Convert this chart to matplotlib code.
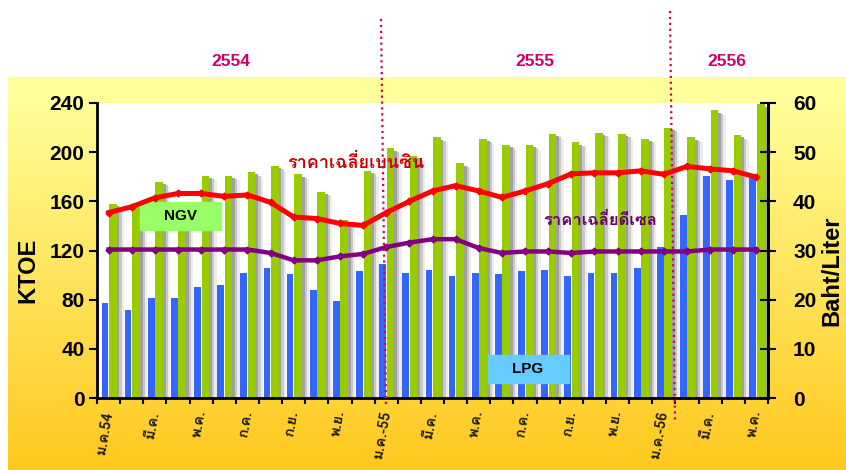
import numpy as np
import matplotlib
matplotlib.use('Agg')
import matplotlib.pyplot as plt
from matplotlib import font_manager
from matplotlib.ft2font import FT2Font
from matplotlib.patches import Rectangle
from matplotlib.lines import Line2D

# ข้อมูลรายเดือน ม.ค.54 - พ.ค.56
lpg = [77, 72, 81, 81, 90, 92, 102, 106, 101, 88, 79, 103, 109, 102, 104, 99, 102, 101,
       103, 104, 99, 102, 102, 106, 123, 149, 181, 177, 179]
ngv = [158, 155, 176, 158, 181, 181, 184, 189, 182, 168, 145, 185, 203, 197, 212, 191, 211, 206,
       206, 215, 208, 216, 215, 211, 220, 212, 234, 214, 239]
benzine = [37.7, 38.9, 40.7, 41.6, 41.6, 41.0, 41.3, 39.8, 36.8, 36.5, 35.5, 35.1, 37.7, 40.0,
           42.1, 43.2, 42.1, 40.8, 42.1, 43.6, 45.6, 45.8, 45.8, 46.2, 45.5, 47.1, 46.6, 46.2, 44.9]
diesel = [30.2, 30.2, 30.2, 30.2, 30.2, 30.2, 30.2, 29.5, 28.0, 28.0, 28.8, 29.3, 30.7, 31.6,
          32.3, 32.3, 30.5, 29.5, 29.8, 29.8, 29.5, 29.8, 29.8, 29.8, 29.8, 29.8, 30.2, 30.2, 30.2]
month_labels = ['ม.ค.54', 'มี.ค.', 'พ.ค.', 'ก.ค.', 'ก.ย.', 'พ.ย.', 'ม.ค.-55', 'มี.ค.', 'พ.ค.',
                'ก.ค.', 'ก.ย.', 'พ.ย.', 'ม.ค.-56', 'มี.ค.', 'พ.ค.']
years = ['2554', '2555', '2556']
left_ticks = [0, 40, 80, 120, 160, 200, 240]
right_ticks = [0, 10, 20, 30, 40, 50, 60]


def thai_family():
    # หาฟอนต์ที่มีตัวอักษรไทย
    for f in font_manager.fontManager.ttflist:
        try:
            if 0x0E01 in FT2Font(f.fname).get_charmap():
                return f.name
        except Exception:
            pass
    return 'DejaVu Sans'


THAI = [thai_family(), 'DejaVu Sans']
plt.rcParams['font.family'] = ['Liberation Sans', 'DejaVu Sans']

W, H = 846, 470
fig = plt.figure(figsize=(W / 100, H / 100), dpi=100)
fig.patch.set_facecolor('white')


def fx(px):
    return px / W


def fy(py):
    return 1 - py / H


# พื้นหลังไล่สีเหลือง
bg = fig.add_axes([0, 0, 1, 1], zorder=-10)
c_top = np.array([255, 255, 153]) / 255
c_bot = np.array([255, 200, 30]) / 255
t = np.clip((np.linspace(0, 1, 200) - 0.05) / 0.95, 0, 1)[:, None]
grad = c_top * (1 - t) + c_bot * t
bg.imshow(grad[:, None, :].repeat(2, axis=1), extent=[8, W, H, 77], aspect='auto')
bg.set_xlim(0, W)
bg.set_ylim(H, 0)
bg.axis('off')

ax = fig.add_axes([fx(97), fy(398), fx(768) - fx(97), fy(103) - fy(398)])
ax.set_facecolor('white')
x = np.arange(len(lpg))

# เงาของแท่ง
ax.bar(x + 0.35, np.array(ngv) - 2, width=0.12, align='edge', color='#a0a0a0', zorder=1)
ax.bar(x + 0.47, np.array(ngv) - 3, width=0.1, align='edge', color='#c8c8c8', zorder=1)
ax.bar(x + 0.57, np.array(ngv) - 4, width=0.1, align='edge', color='#ececec', zorder=1)
ax.bar(x - 0.3, lpg, width=0.29, align='edge', color='#3366ff', zorder=2)
ax.bar(x + 0.02, ngv, width=0.33, align='edge', color='#99cc00', zorder=2)

ax.set_xlim(-0.5, len(lpg) - 0.5)
ax.set_ylim(0, 240)
ax.set_yticks(left_ticks)
ax.set_yticklabels(left_ticks, fontsize=15, fontweight='bold')
ax.set_xticks(x[::2])
ax.set_xticklabels(month_labels, rotation=80, ha='right', va='center', rotation_mode='anchor',
                   fontsize=10.5, fontweight='bold', family=THAI, color='#1a1a1a')
ax.set_xticks(np.arange(-0.5, len(lpg)), minor=True)
ax.tick_params(axis='x', which='major', length=0, pad=9)
ax.tick_params(axis='x', which='minor', length=4, width=1.5)
ax.tick_params(axis='y', length=6, width=1.5, pad=3)
for s in ['left', 'bottom', 'right']:
    ax.spines[s].set_linewidth(2)
ax.spines['top'].set_visible(False)

# กล่องป้าย NGV / LPG
ax.add_patch(Rectangle((fx(140), fy(230)), fx(81), fy(202) - fy(230), transform=fig.transFigure,
                       color='#99ff66', clip_on=False, zorder=3))
ax.add_patch(Rectangle((fx(488), fy(383)), fx(81), fy(355) - fy(383), transform=fig.transFigure,
                       color='#66ccff', clip_on=False, zorder=3))

ax2 = ax.twinx()
ax2.plot(x, diesel, color='#800080', linewidth=3.2, marker='D', markersize=3.5, zorder=4)
ax2.plot(x, benzine, color='#ff0000', linewidth=3.6, marker='D', markersize=3.5, zorder=5)
ax2.set_ylim(0, 60)
ax2.set_yticks(right_ticks)
ax2.set_yticklabels(right_ticks, fontsize=15, fontweight='bold')
ax2.tick_params(axis='y', direction='inout', length=12, width=1.5, pad=12)
ax2.spines['right'].set_linewidth(2)
ax2.spines['top'].set_visible(False)

fig.text(fx(180), fy(216), 'NGV', fontsize=11, fontweight='bold', ha='center', va='center')
fig.text(fx(528), fy(369), 'LPG', fontsize=11, fontweight='bold', ha='center', va='center')
fig.text(fx(356), fy(163), 'ราคาเฉลี่ยเบนซิน', fontsize=13, fontweight='bold', color='#cc0000',
         ha='center', va='center', family=THAI)
fig.text(fx(600), fy(220), 'ราคาเฉลี่ยดีเซล', fontsize=12, fontweight='bold', color='#660066',
         ha='center', va='center', family=THAI)

fig.text(fx(28), fy(270), 'KTOE', fontsize=17, fontweight='bold', rotation=90, ha='center', va='center')
fig.text(fx(820), fy(271), 'Baht/Liter', fontsize=17, fontweight='bold', rotation=90,
         ha='left', va='center')

for yr, px in zip(years, [231, 535, 727]):
    fig.text(fx(px), fy(61), yr, fontsize=12.5, fontweight='bold', color='#cc0066',
             ha='center', va='center')

# เส้นแบ่งปี
fig.add_artist(Line2D([fx(381), fx(386)], [fy(19), fy(407)], color='#cc0066', linestyle=':',
                      linewidth=1.6, zorder=20))
fig.add_artist(Line2D([fx(670), fx(675)], [fy(11), fy(423)], color='#cc0066', linestyle=':',
                      linewidth=1.6, zorder=20))

plt.savefig('out.png', dpi=100)
